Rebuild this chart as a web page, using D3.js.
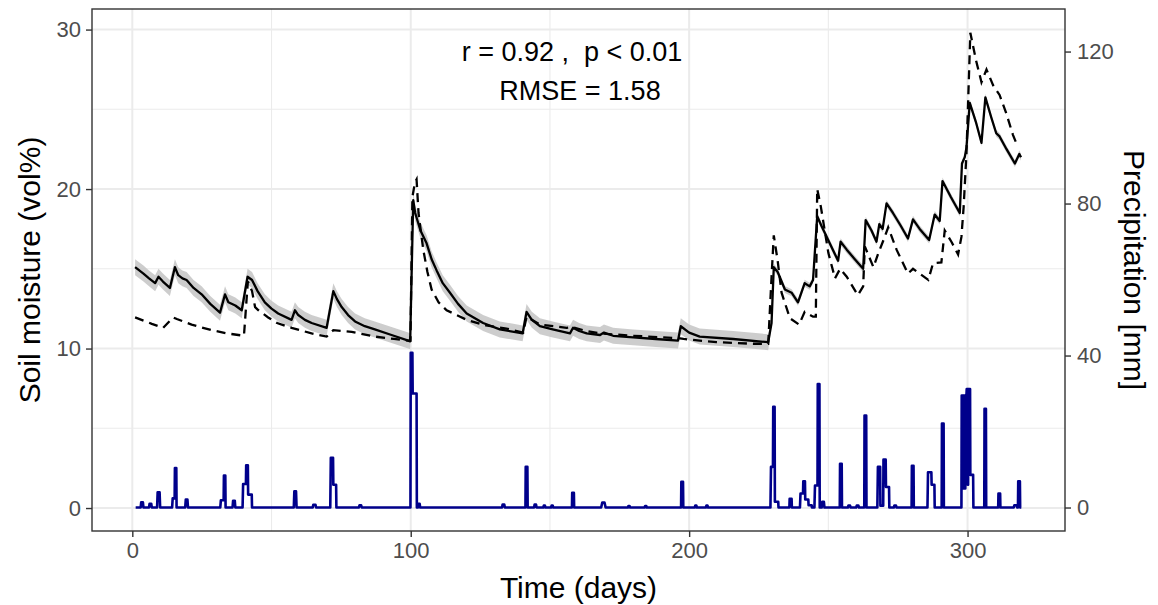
<!DOCTYPE html>
<html>
<head>
<meta charset="utf-8">
<script src="https://cdn.jsdelivr.net/npm/d3@7"></script>
<style>
  body { margin: 0; background: #fff; }
  svg { display: block; font-family: "Liberation Sans", Arial, sans-serif; }
</style>
</head>
<body>
<div id="chart"></div>
<script>
// simulated soil moisture (solid), [day, vol%]
const simulated = [
  [1,15.1],[4,14.7],[6,14.4],[8.2,14.1],[9.4,14.5],[11,14.2],[13.5,13.8],[15.3,15.1],[16.5,14.6],[18,14.4],
  [19.5,14.3],[22,13.8],[24.9,13.4],[28,12.8],[31.5,12.25],[33.3,13.4],[34.5,12.9],[37,12.7],[39.3,12.4],
  [41.4,14.5],[43,14.3],[45,13.6],[47.6,12.9],[50,12.5],[52.4,12.2],[57.2,11.8],[58.4,12.4],[59.6,12.1],
  [62,11.8],[64.4,11.6],[69.8,11.3],[72.2,13.6],[73.5,13.1],[75.2,12.6],[77.5,12.1],[80,11.7],[83.5,11.4],
  [87.1,11.2],[93.1,10.85],[99.1,10.5],[99.8,10.45],[100.9,19.3],[101.6,18.5],[103.5,17.4],[105.7,16.6],
  [107.5,15.6],[109.3,14.9],[111.5,14.1],[114.1,13.5],[117,12.8],[120.1,12.2],[126,11.6],[132,11.2],
  [140.2,10.95],[141.6,12.3],[143.5,11.8],[146.4,11.4],[151,11.2],[157.2,10.95],[158.3,11.3],[160.5,11.1],
  [163.2,10.95],[168,10.85],[169.4,11.0],[172.7,10.8],[179.9,10.7],[188,10.6],[196,10.5],[197,11.4],
  [200,11.0],[203.8,10.75],[215.8,10.6],[228.4,10.4],[229.6,11.6],[230.4,15.1],[231.8,14.8],[234.4,13.7],
  [236.8,13.5],[239.1,12.9],[241.5,14.1],[243.3,13.9],[244.5,14.3],[246,18.3],[247.5,17.7],[250.5,16.6],
  [253.5,15.5],[254.4,16.7],[256.6,16.2],[259.5,15.6],[262.5,15.0],[263.4,18.05],[265.5,17.4],[267.3,16.7],
  [268.3,17.8],[269.5,17.5],[270.9,19.1],[273.2,18.5],[276,17.7],[278.6,16.9],[280.4,18.1],[282.8,17.5],
  [286.2,16.8],[288.2,18.4],[290,18.0],[291,20.5],[294,19.5],[297.2,18.5],[298,21.6],[299,22.0],[299.6,22.6],
  [300.8,25.4],[303,24.2],[305,22.9],[306.4,25.75],[308.5,24.5],[310.3,23.5],[311.5,23.3],[314,22.5],
  [317,21.6],[318.6,22.2],[319.2,22.0]
];

// half width of the grey band round the simulated line, [from day, vol%]
const bandHalf = [[0, 0.5], [229, 0.22]];

// observed soil moisture (dashed), [day, vol%]
const observed = [
  [1,11.95],[4,11.75],[7,11.55],[11.1,11.3],[14.7,11.95],[16,11.85],[21.3,11.5],[28.5,11.15],[34,10.95],
  [38.1,10.85],[40.1,10.8],[41.5,14.2],[43,13.6],[44.1,12.6],[45.3,12.4],[48.8,11.95],[52,11.6],[57.2,11.3],
  [64.4,10.95],[69.8,10.75],[72.2,11.15],[78.8,11.05],[87.1,10.75],[94,10.6],[99.1,10.5],[99.9,10.5],
  [100.6,19.5],[101.5,20.4],[102.1,20.6],[102.8,18.5],[104.5,16.2],[106,14.8],[107.5,13.7],[110,12.9],
  [112.9,12.4],[120.1,11.8],[127,11.45],[134.4,11.25],[140.4,11.0],[141.6,12.0],[143.5,11.8],[146.4,11.5],
  [156,11.3],[158,11.35],[163,11.1],[168,10.95],[180,10.8],[196,10.65],[198,10.6],[209.8,10.4],[223,10.3],
  [228.4,10.3],[229.6,14.5],[230.4,17.1],[231.8,15.5],[233.2,13.5],[236.2,11.9],[239.5,11.5],[241.5,12.3],
  [244.5,12.0],[245.5,12.0],[246,20.0],[247.3,18.9],[250,16.0],[252.4,14.4],[254.2,15.0],[256.6,14.5],
  [260.6,13.35],[262.5,13.9],[263.1,16.4],[266.2,15.1],[268,16.0],[269.8,16.8],[271.5,17.6],[274.5,16.2],
  [278.6,14.7],[280.4,15.0],[285.9,14.3],[287.6,15.35],[290.6,15.4],[291.8,17.4],[294.2,16.7],[296.6,15.9],
  [297.8,17.0],[298.6,18.9],[299.6,22.2],[301.0,29.8],[303,28.1],[305,26.7],[306.8,27.5],[309.2,26.5],
  [311.5,25.9],[313.9,24.75],[316.3,23.4],[317.7,22.8],[318.7,22.8]
];

// precipitation, [day, mm] vertices of the sub-daily series
const precip = [
  [1.2,0],[3.0,0],[3.2,1.4],[3.8,1.4],[4.0,0],[6.0,0],[6.2,1.0],[6.8,1.0],[7.0,0],
  [8.9,0],[9.1,4.0],[9.8,4.0],[10.0,0],
  [14.3,0],[14.5,2.4],[15.2,2.4],[15.3,10.4],[15.8,10.4],[15.9,0],
  [19.0,0],[19.2,2.1],[19.8,2.1],[20.0,0],
  [31.6,0],[31.8,1.9],[32.8,1.9],[32.9,8.4],[33.4,8.4],[33.5,0],
  [36.0,0],[36.2,1.8],[36.8,1.8],[37.0,0],
  [39.6,0],[39.8,6.2],[40.8,6.2],[40.9,11.1],[41.5,11.1],[41.6,3.4],[42.9,3.4],[43.0,0],
  [58.0,0],[58.2,4.3],[58.8,4.3],[59.0,0],
  [64.8,0],[65.0,0.7],[65.8,0.7],[66.0,0],
  [71.1,0],[71.3,13.1],[72.1,13.1],[72.2,6.0],[73.2,6.0],[73.3,0],
  [81.4,0],[81.6,0.6],[82.2,0.6],[82.4,0],
  [99.9,0],[100.0,40.7],[100.6,40.7],[100.7,30.0],[102.1,30.0],[102.2,0],
  [102.6,0],[102.8,1.0],[103.2,1.0],[103.4,0],
  [132.8,0],[133.0,0.8],[133.6,0.8],[133.8,0],
  [141.2,0],[141.3,10.7],[141.9,10.7],[142.0,0],
  [144.3,0],[144.5,0.8],[145.0,0.8],[145.2,0],
  [147.6,0],[147.8,0.5],[148.2,0.5],[148.4,0],
  [150.4,0],[150.6,0.5],[151.0,0.5],[151.2,0],
  [157.9,0],[158.0,3.9],[158.6,3.9],[158.7,0],
  [168.4,0],[168.8,1.3],[169.6,1.3],[170.0,0],
  [178.0,0],[178.2,0.4],[178.6,0.4],[178.8,0],
  [184.0,0],[184.2,0.4],[184.6,0.4],[184.8,0],
  [197.1,0],[197.2,6.8],[197.8,6.8],[197.9,0],
  [202.0,0],[202.2,0.5],[202.6,0.5],[202.8,0],
  [206.0,0],[206.2,0.5],[206.6,0.5],[206.8,0],
  [229.2,0],[229.4,10.7],[230.1,10.7],[230.2,26.5],[230.7,26.5],[230.8,1.5],[232.0,1.5],[232.1,0],
  [236.0,0],[236.1,2.3],[236.8,2.3],[236.9,0],
  [239.8,0],[240.0,3.7],[240.9,3.7],[241.0,6.9],[241.6,6.9],[241.7,2.1],[242.8,2.1],[242.9,0.6],[244.0,0.6],[244.1,0],
  [245.0,0],[245.2,5.8],[246.1,5.8],[246.2,32.5],[246.8,32.5],[246.9,0],
  [247.6,0],[247.8,1.5],[248.4,1.5],[248.6,0],
  [254.1,0],[254.2,11.5],[254.8,11.5],[254.9,0],
  [257.0,0],[257.2,0.5],[257.8,0.5],[258.0,0],
  [260.0,0],[260.2,0.5],[260.8,0.5],[261.0,0],
  [262.9,0],[263.0,24.2],[263.6,24.2],[263.7,0],
  [267.6,0],[267.8,10.7],[268.6,10.7],[268.7,0.5],[269.7,0.5],[269.8,12.6],[270.6,12.6],[270.7,5.4],[271.8,5.4],[271.9,0],
  [273.5,0],[273.7,0.5],[274.3,0.5],[274.5,0],
  [279.9,0],[280.0,11.0],[280.6,11.0],[280.7,0],
  [285.6,0],[285.8,9.3],[287.0,9.3],[287.1,6.0],[288.1,6.0],[288.2,0],
  [290.7,0],[290.8,22.1],[291.4,22.1],[291.5,0],
  [297.8,0],[297.9,29.5],[298.3,29.5],[298.4,5],[298.5,5],[298.6,29.5],[299.0,29.5],[299.1,5],[299.2,5],
  [299.3,29.5],[299.6,29.5],[299.7,31.2],[300.0,31.2],[300.1,6],[300.2,6],[300.3,31.2],[300.9,31.2],
  [301.0,8.6],[302.0,8.6],[302.1,0],
  [306.0,0],[306.1,26.0],[306.6,26.0],[306.7,0],
  [311.0,0],[311.1,3.7],[311.7,3.7],[311.8,0],
  [316.6,0],[316.8,0.6],[317.6,0.6],[317.8,0],
  [318.1,0],[318.2,6.9],[318.8,6.9],[318.9,0],[319.3,0]
];

const xTicks = [0, 100, 200, 300];
const xMinor = [50, 150, 250];
const yTicks = [0, 10, 20, 30];
const yMinor = [5, 15, 25];
const precipTicks = [0, 40, 80, 120];
const statsLines = ["r = 0.92 ,  p < 0.01", "RMSE = 1.58"];

const width = 1158, height = 605;
const panel = { left: 92, right: 1065, top: 9, bottom: 531 };

const svg = d3.select("#chart").append("svg")
  .attr("width", width).attr("height", height);

const x = d3.scaleLinear().domain([-14.48, 335.0]).range([panel.left, panel.right]);
const y = d3.scaleLinear().domain([-1.44, 31.29]).range([panel.bottom, panel.top]);
const yP = d3.scaleLinear().domain([-6.18, 131.2]).range([panel.bottom, panel.top]);

svg.append("defs").append("clipPath").attr("id", "clip")
  .append("rect")
  .attr("x", panel.left).attr("y", panel.top)
  .attr("width", panel.right - panel.left).attr("height", panel.bottom - panel.top);

// grid
const grid = svg.append("g");
grid.selectAll(".gxm").data(xMinor).enter().append("line")
  .attr("x1", d => x(d)).attr("x2", d => x(d))
  .attr("y1", panel.top).attr("y2", panel.bottom)
  .attr("stroke", "#EBEBEB").attr("stroke-width", 1.1);
grid.selectAll(".gym").data(yMinor).enter().append("line")
  .attr("y1", d => y(d)).attr("y2", d => y(d))
  .attr("x1", panel.left).attr("x2", panel.right)
  .attr("stroke", "#EBEBEB").attr("stroke-width", 1.1);
grid.selectAll(".gx").data(xTicks).enter().append("line")
  .attr("x1", d => x(d)).attr("x2", d => x(d))
  .attr("y1", panel.top).attr("y2", panel.bottom)
  .attr("stroke", "#EBEBEB").attr("stroke-width", 2);
grid.selectAll(".gy").data(yTicks).enter().append("line")
  .attr("y1", d => y(d)).attr("y2", d => y(d))
  .attr("x1", panel.left).attr("x2", panel.right)
  .attr("stroke", "#EBEBEB").attr("stroke-width", 2);

const plot = svg.append("g").attr("clip-path", "url(#clip)");

// precipitation
plot.append("path")
  .datum(precip)
  .attr("fill", "none")
  .attr("stroke", "#00008B")
  .attr("stroke-width", 2.6)
  .attr("stroke-linejoin", "round")
  .attr("d", d3.line().x(d => x(d[0])).y(d => yP(d[1])));

// band round simulated line
const halfAt = day => {
  let h = bandHalf[0][1];
  bandHalf.forEach(b => { if (day >= b[0]) h = b[1]; });
  return h;
};
plot.append("path")
  .datum(simulated)
  .attr("fill", "#C4C4C4")
  .attr("opacity", 0.85)
  .attr("d", d3.area()
    .x(d => x(d[0]))
    .y0(d => y(d[1] - halfAt(d[0])))
    .y1(d => y(d[1] + halfAt(d[0]))));

// observed (dashed)
plot.append("path")
  .datum(observed)
  .attr("fill", "none")
  .attr("stroke", "#000")
  .attr("stroke-width", 2.3)
  .attr("stroke-dasharray", "9,6")
  .attr("d", d3.line().x(d => x(d[0])).y(d => y(d[1])));

// simulated (solid)
plot.append("path")
  .datum(simulated)
  .attr("fill", "none")
  .attr("stroke", "#000")
  .attr("stroke-width", 2.3)
  .attr("stroke-linejoin", "round")
  .attr("d", d3.line().x(d => x(d[0])).y(d => y(d[1])));

// panel border
svg.append("rect")
  .attr("x", panel.left).attr("y", panel.top)
  .attr("width", panel.right - panel.left).attr("height", panel.bottom - panel.top)
  .attr("fill", "none").attr("stroke", "#333333").attr("stroke-width", 1.4);

// axes
const styleAxis = g => {
  g.select(".domain").remove();
  g.selectAll(".tick line").attr("stroke", "#333333").attr("stroke-width", 1.4);
  g.selectAll(".tick text").attr("fill", "#4D4D4D").style("font-size", "22px")
    .style("font-family", "'Liberation Sans', Arial, sans-serif");
};
svg.append("g")
  .attr("transform", `translate(0,${panel.bottom})`)
  .call(d3.axisBottom(x).tickValues(xTicks).tickSize(6).tickPadding(5))
  .call(styleAxis);
svg.append("g")
  .attr("transform", `translate(${panel.left},0)`)
  .call(d3.axisLeft(y).tickValues(yTicks).tickSize(6).tickPadding(5))
  .call(styleAxis);
svg.append("g")
  .attr("transform", `translate(${panel.right},0)`)
  .call(d3.axisRight(yP).tickValues(precipTicks).tickSize(6).tickPadding(6))
  .call(styleAxis);

// axis titles
svg.append("text")
  .attr("x", (panel.left + panel.right) / 2).attr("y", 598)
  .attr("text-anchor", "middle").style("font-size", "30px")
  .text("Time (days)");
svg.append("text")
  .attr("transform", `translate(29,${(panel.top + panel.bottom) / 2}) rotate(-90)`)
  .attr("text-anchor", "middle").attr("dy", "0.35em").style("font-size", "30px")
  .text("Soil moisture (vol%)");
svg.append("text")
  .attr("transform", `translate(1134,${(panel.top + panel.bottom) / 2}) rotate(90)`)
  .attr("text-anchor", "middle").attr("dy", "0.35em").style("font-size", "30px")
  .text("Precipitation [mm]");

// statistics
svg.selectAll(".stat").data(statsLines).enter().append("text")
  .attr("x", (d, i) => i === 0 ? 572 : 580)
  .attr("y", (d, i) => 61 + i * 39)
  .attr("text-anchor", "middle")
  .style("font-size", "27px")
  .style("white-space", "pre")
  .attr("xml:space", "preserve")
  .text(d => d);
</script>
</body>
</html>
